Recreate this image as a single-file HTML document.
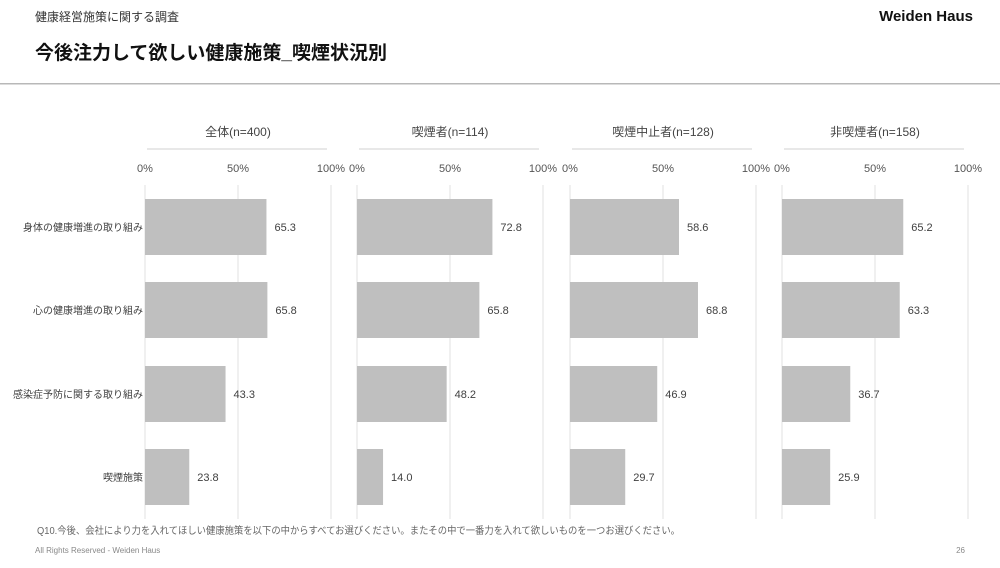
<!DOCTYPE html>
<html><head><meta charset="utf-8"><style>
body{margin:0;width:1000px;height:563px;background:#fff;overflow:hidden;font-family:"Liberation Sans","Noto Sans CJK JP",sans-serif}
</style></head><body>
<svg width="1000" height="563" xmlns="http://www.w3.org/2000/svg" font-family="Liberation Sans, Noto Sans CJK JP, sans-serif">
<text x="35" y="21" font-size="12" fill="#333">健康経営施策に関する調査</text>
<text x="973" y="21" font-size="15" font-weight="bold" fill="#111" text-anchor="end">Weiden Haus</text>
<text x="35" y="59" font-size="19" font-weight="bold" fill="#111">今後注力して欲しい健康施策_喫煙状況別</text>
<rect x="0" y="83" width="1000" height="1.5" fill="#b8b8b8"/>
<g font-size="10" fill="#404040" text-anchor="end">
<text x="143" y="231">身体の健康増進の取り組み</text>
<text x="143" y="314">心の健康増進の取り組み</text>
<text x="143" y="398">感染症予防に関する取り組み</text>
<text x="143" y="481">喫煙施策</text>
</g>
<g id="panels" font-size="11" fill="#555"></g>
<text x="37" y="534" font-size="10" fill="#666" textLength="643" lengthAdjust="spacingAndGlyphs">Q10.今後、会社により力を入れてほしい健康施策を以下の中からすべてお選びください。またその中で一番力を入れて欲しいものを一つお選びください。</text>
<text x="35" y="553" font-size="8" fill="#888">All Rights Reserved - Weiden Haus</text>
<text x="965" y="553" font-size="8" fill="#888" text-anchor="end">26</text>
</svg>
<script>
var P=[{x:145,t:"全体(n=400)",v:[65.3,65.8,43.3,23.8]},{x:357,t:"喫煙者(n=114)",v:[72.8,65.8,48.2,14.0]},{x:570,t:"喫煙中止者(n=128)",v:[58.6,68.8,46.9,29.7]},{x:782,t:"非喫煙者(n=158)",v:[65.2,63.3,36.7,25.9]}];
var W=186,s="",ys=[227,310,394,477];
P.forEach(function(p){
s+='<text x="'+(p.x+W/2)+'" y="136" font-size="12" text-anchor="middle" fill="#444">'+p.t+'</text>';
s+='<rect x="'+(p.x+2)+'" y="148.5" width="'+(W-6)+'" height="1" fill="#d0d0d0"/>';
[0,50,100].forEach(function(g,i){var gx=p.x+W*g/100;
s+='<rect x="'+(gx-0.5)+'" y="185" width="1" height="334" fill="#e2e2e2"/>';
s+='<text x="'+gx+'" y="172" text-anchor="middle">'+g+'%</text>';});
p.v.forEach(function(v,i){var w=W*v/100;
s+='<rect x="'+p.x+'" y="'+(ys[i]-28)+'" width="'+w+'" height="56" fill="#bfbfbf"/>';
s+='<text x="'+(p.x+w+8)+'" y="'+(ys[i]+4)+'" fill="#404040">'+v.toFixed(1)+'</text>';});
});
document.getElementById("panels").innerHTML=s;
</script>
</body></html>
